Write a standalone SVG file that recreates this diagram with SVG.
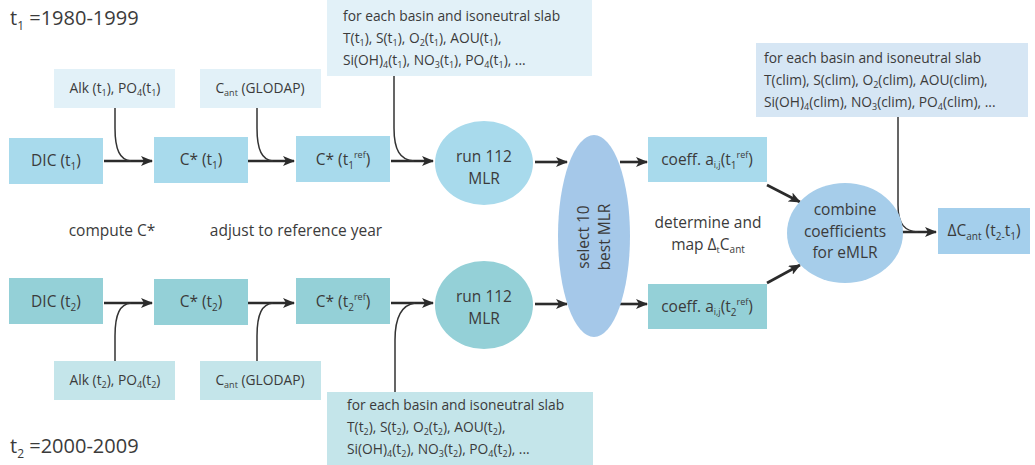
<svg xmlns="http://www.w3.org/2000/svg" width="1035" height="465" viewBox="0 0 1035 465">
<defs>
<style>
text{font-family:"Open Sans","Liberation Sans",sans-serif;fill:#3b3b3b}
.m{font-size:15.5px;text-anchor:middle}
.s{font-size:13.8px}
.sc{font-size:13.8px;text-anchor:middle}
.t{font-size:20px}
.b1{fill:#a8daec}
.b2{fill:#94d0d7}
.l1{fill:#e2f1f8}
.l2{fill:#c4e5ea}
.ar{fill:none;stroke:#2b2b2b;stroke-width:2.6}
.cv{fill:none;stroke:#333;stroke-width:1.5}
</style>
<marker id="ah" viewBox="0 0 12 10" refX="11" refY="5" markerWidth="12" markerHeight="10" markerUnits="userSpaceOnUse" orient="auto">
<path d="M0,0 L12,5 L0,10 L3,5 z" fill="#2b2b2b"/>
</marker>
</defs>

<text class="t" x="10" y="25">t<tspan font-size="12" dy="5">1</tspan><tspan dy="-5"> =1980-1999</tspan></text>
<text class="t" x="10" y="453">t<tspan font-size="12" dy="5">2</tspan><tspan dy="-5"> =2000-2009</tspan></text>

<g id="connectors">
<path class="ar" d="M104,161 H152" marker-end="url(#ah)"/>
<path class="ar" d="M248,161 H294" marker-end="url(#ah)"/>
<path class="ar" d="M391,161 H433" marker-end="url(#ah)"/>
<path class="ar" d="M535,162 H567" marker-end="url(#ah)"/>
<path class="ar" d="M620,162 H647" marker-end="url(#ah)"/>
<path class="ar" d="M104,303 H152" marker-end="url(#ah)"/>
<path class="ar" d="M248,303 H294" marker-end="url(#ah)"/>
<path class="ar" d="M391,303 H433" marker-end="url(#ah)"/>
<path class="ar" d="M535,304 H567" marker-end="url(#ah)"/>
<path class="ar" d="M620,304 H647" marker-end="url(#ah)"/>
<path class="ar" d="M767,185 L800,202" marker-end="url(#ah)"/>
<path class="ar" d="M767,283 L800,265" marker-end="url(#ah)"/>
<path class="ar" d="M902,232 H936" marker-end="url(#ah)"/>
<path class="cv" d="M115,108 V128 C115,150 120,160 131,161"/>
<path class="cv" d="M257,108 V128 C257,150 262,160 273,161"/>
<path class="cv" d="M394,76 V128 C394,150 400,160 414,161"/>
<path class="cv" d="M898,117 V205 C898,225 905,231 918,232"/>
<path class="cv" d="M115,361 V336 C115,314 120,304 131,303"/>
<path class="cv" d="M257,361 V336 C257,314 262,304 273,303"/>
<path class="cv" d="M395,392 V340 C395,318 401,305 415,303"/>
</g>

<g id="dic1"><rect class="b1" x="9" y="138" width="94" height="46"/>
<text class="m" x="56" y="166">DIC (t<tspan font-size="10" dy="4">1</tspan><tspan dy="-4">)</tspan></text></g>
<g id="cstar1"><rect class="b1" x="154" y="137" width="94" height="46"/>
<text class="m" x="201" y="165">C* (t<tspan font-size="10" dy="4">1</tspan><tspan dy="-4">)</tspan></text></g>
<g id="cstarref1"><rect class="b1" x="296" y="136" width="94" height="46"/>
<text class="m" x="343" y="165">C* (t<tspan font-size="10" dy="4">1</tspan><tspan font-size="9" dy="-11">ref</tspan><tspan dy="7">)</tspan></text></g>
<g id="alk1"><rect class="l1" x="54" y="69" width="121" height="39"/>
<text class="sc" x="115" y="93">Alk (t<tspan font-size="9" dy="3">1</tspan><tspan dy="-3">), PO</tspan><tspan font-size="9" dy="3">4</tspan><tspan dy="-3">(t</tspan><tspan font-size="9" dy="3">1</tspan><tspan dy="-3">)</tspan></text></g>
<g id="cant1"><rect class="l1" x="200" y="69" width="121" height="39"/>
<text class="sc" x="260" y="93">C<tspan font-size="9" dy="3">ant</tspan><tspan dy="-3"> (GLODAP)</tspan></text></g>
<g id="vars1"><rect class="l1" x="327" y="0" width="265" height="76"/>
<text class="s" x="343" y="21">for each basin and isoneutral slab</text>
<text class="s" x="343" y="43">T(t<tspan font-size="9" dy="3">1</tspan><tspan dy="-3">), S(t</tspan><tspan font-size="9" dy="3">1</tspan><tspan dy="-3">), O</tspan><tspan font-size="9" dy="3">2</tspan><tspan dy="-3">(t</tspan><tspan font-size="9" dy="3">1</tspan><tspan dy="-3">), AOU(t</tspan><tspan font-size="9" dy="3">1</tspan><tspan dy="-3">),</tspan></text>
<text class="s" x="343" y="65">Si(OH)<tspan font-size="9" dy="3">4</tspan><tspan dy="-3">(t</tspan><tspan font-size="9" dy="3">1</tspan><tspan dy="-3">), NO</tspan><tspan font-size="9" dy="3">3</tspan><tspan dy="-3">(t</tspan><tspan font-size="9" dy="3">1</tspan><tspan dy="-3">), PO</tspan><tspan font-size="9" dy="3">4</tspan><tspan dy="-3">(t</tspan><tspan font-size="9" dy="3">1</tspan><tspan dy="-3">), ...</tspan></text></g>
<g id="mlr1"><ellipse class="b1" cx="484" cy="163" rx="49" ry="42"/>
<text class="m" x="484" y="162">run 112</text><text class="m" x="484" y="184">MLR</text></g>

<g id="dic2"><rect class="b2" x="9" y="278" width="94" height="46"/>
<text class="m" x="56" y="307">DIC (t<tspan font-size="10" dy="4">2</tspan><tspan dy="-4">)</tspan></text></g>
<g id="cstar2"><rect class="b2" x="154" y="279" width="94" height="46"/>
<text class="m" x="201" y="307">C* (t<tspan font-size="10" dy="4">2</tspan><tspan dy="-4">)</tspan></text></g>
<g id="cstarref2"><rect class="b2" x="296" y="278" width="94" height="46"/>
<text class="m" x="343" y="307">C* (t<tspan font-size="10" dy="4">2</tspan><tspan font-size="9" dy="-11">ref</tspan><tspan dy="7">)</tspan></text></g>
<g id="alk2"><rect class="l2" x="54" y="361" width="121" height="39"/>
<text class="sc" x="115" y="385">Alk (t<tspan font-size="9" dy="3">2</tspan><tspan dy="-3">), PO</tspan><tspan font-size="9" dy="3">4</tspan><tspan dy="-3">(t</tspan><tspan font-size="9" dy="3">2</tspan><tspan dy="-3">)</tspan></text></g>
<g id="cant2"><rect class="l2" x="200" y="361" width="121" height="39"/>
<text class="sc" x="260" y="385">C<tspan font-size="9" dy="3">ant</tspan><tspan dy="-3"> (GLODAP)</tspan></text></g>
<g id="vars2"><rect class="l2" x="327" y="392" width="266" height="73"/>
<text class="s" x="347" y="410">for each basin and isoneutral slab</text>
<text class="s" x="347" y="432">T(t<tspan font-size="9" dy="3">2</tspan><tspan dy="-3">), S(t</tspan><tspan font-size="9" dy="3">2</tspan><tspan dy="-3">), O</tspan><tspan font-size="9" dy="3">2</tspan><tspan dy="-3">(t</tspan><tspan font-size="9" dy="3">2</tspan><tspan dy="-3">), AOU(t</tspan><tspan font-size="9" dy="3">2</tspan><tspan dy="-3">),</tspan></text>
<text class="s" x="347" y="454">Si(OH)<tspan font-size="9" dy="3">4</tspan><tspan dy="-3">(t</tspan><tspan font-size="9" dy="3">2</tspan><tspan dy="-3">), NO</tspan><tspan font-size="9" dy="3">3</tspan><tspan dy="-3">(t</tspan><tspan font-size="9" dy="3">2</tspan><tspan dy="-3">), PO</tspan><tspan font-size="9" dy="3">4</tspan><tspan dy="-3">(t</tspan><tspan font-size="9" dy="3">2</tspan><tspan dy="-3">), ...</tspan></text></g>
<g id="mlr2"><ellipse class="b2" cx="484" cy="305" rx="49" ry="44"/>
<text class="m" x="484" y="302">run 112</text><text class="m" x="484" y="324">MLR</text></g>

<g id="labels">
<text class="m" x="112" y="236">compute C*</text>
<text class="m" x="296" y="236">adjust to reference year</text>
<text class="m" x="708" y="228">determine and</text>
<text class="m" x="708" y="250">map Δ<tspan font-size="9" dy="3">t</tspan><tspan dy="-3">C</tspan><tspan font-size="10" dy="3">ant</tspan></text>
</g>

<g id="select"><ellipse cx="594" cy="236" rx="36" ry="101" fill="#a5c8e9"/>
<text class="m" transform="translate(589,237) rotate(-90)">select 10</text>
<text class="m" transform="translate(610,237) rotate(-90)">best MLR</text></g>

<g id="coeff1"><rect class="b1" x="648" y="137" width="119" height="45"/>
<text class="m" x="707" y="165">coeff. a<tspan font-size="9" dy="3">i,j</tspan><tspan dy="-3">(t</tspan><tspan font-size="10" dy="4">1</tspan><tspan font-size="9" dy="-11">ref</tspan><tspan dy="7">)</tspan></text></g>
<g id="coeff2"><rect class="b2" x="648" y="284" width="119" height="45"/>
<text class="m" x="707" y="312">coeff. a<tspan font-size="9" dy="3">i,j</tspan><tspan dy="-3">(t</tspan><tspan font-size="10" dy="4">2</tspan><tspan font-size="9" dy="-11">ref</tspan><tspan dy="7">)</tspan></text></g>

<g id="combine"><ellipse cx="845" cy="233" rx="58" ry="50" fill="#a6cdea"/>
<text class="m" x="845" y="215">combine</text>
<text class="m" x="845" y="237">coefficients</text>
<text class="m" x="845" y="258">for eMLR</text></g>

<g id="clim"><rect x="756" y="43" width="272" height="74" fill="#d6e6f4"/>
<text class="s" x="764" y="63">for each basin and isoneutral slab</text>
<text class="s" x="764" y="85">T(clim), S(clim), O<tspan font-size="9" dy="3">2</tspan><tspan dy="-3">(clim), AOU(clim),</tspan></text>
<text class="s" x="764" y="107">Si(OH)<tspan font-size="9" dy="3">4</tspan><tspan dy="-3">(clim), NO</tspan><tspan font-size="9" dy="3">3</tspan><tspan dy="-3">(clim), PO</tspan><tspan font-size="9" dy="3">4</tspan><tspan dy="-3">(clim), ...</tspan></text></g>

<g id="dcant"><rect x="938" y="208" width="92" height="46" fill="#a4cfec"/>
<text class="m" x="984" y="236">ΔC<tspan font-size="10" dy="4">ant</tspan><tspan dy="-4"> (t</tspan><tspan font-size="10" dy="4">2-</tspan><tspan dy="-4">t</tspan><tspan font-size="10" dy="4">1</tspan><tspan dy="-4">)</tspan></text></g>
</svg>
